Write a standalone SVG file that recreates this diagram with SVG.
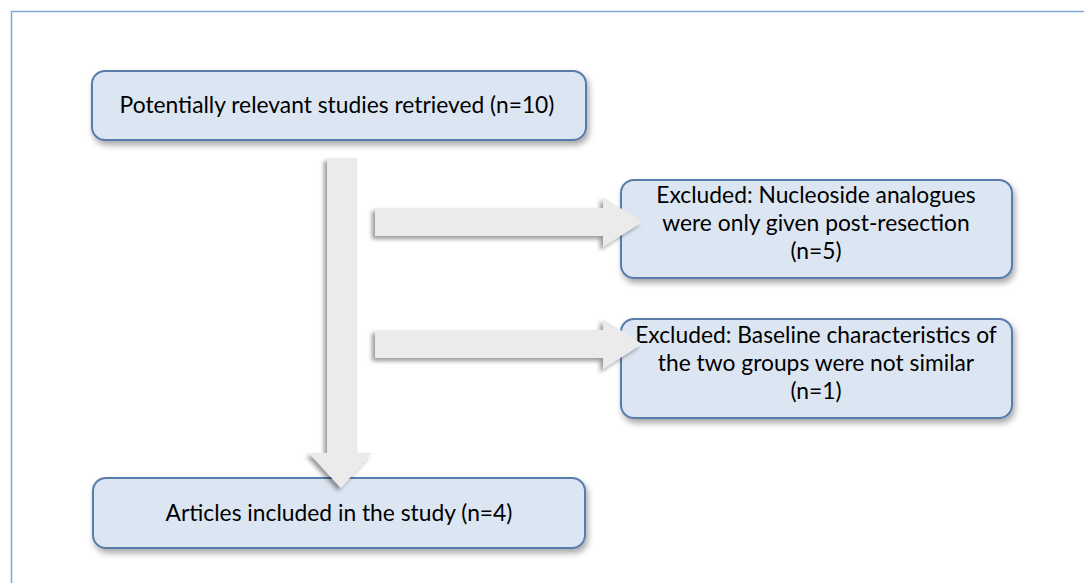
<svg xmlns="http://www.w3.org/2000/svg" width="1084" height="583" viewBox="0 0 1084 583">
<defs>
<filter id="sh" x="-10%" y="-20%" width="130%" height="150%">
<feDropShadow dx="2" dy="4" stdDeviation="3" flood-color="#000" flood-opacity="0.35"/>
</filter>
<filter id="ash" x="-20%" y="-20%" width="140%" height="150%">
<feDropShadow dx="-3" dy="3" stdDeviation="2" flood-color="#000" flood-opacity="0.4"/>
</filter>
</defs>
<style>
.box{fill:#dce6f2;stroke:#5a7bab;stroke-width:2;filter:url(#sh)}
.arr{fill:#ebebeb;filter:url(#ash)}
text{font-family:Lato,"Liberation Sans",sans-serif;font-size:22.8px;fill:#000;text-anchor:middle}
</style>
<rect x="11.5" y="11.5" width="1090" height="600" fill="none" stroke="#7ea6d8" stroke-width="1.5"/>
<g id="n1">
<rect class="box" x="92" y="71" width="494" height="69" rx="13"/>
<text x="337" y="113">Potentially relevant studies retrieved (n=10)</text>
</g>
<g id="n2">
<rect class="box" x="621" y="180" width="391" height="98" rx="13"/>
<text x="816" y="203">Excluded: Nucleoside analogues</text>
<text x="816" y="231">were only given post-resection</text>
<text x="816" y="259">(n=5)</text>
</g>
<g id="n3">
<rect class="box" x="621" y="319" width="391" height="99" rx="13"/>
<text x="816" y="343">Excluded: Baseline characteristics of</text>
<text x="816" y="371">the two groups were not similar</text>
<text x="816" y="399">(n=1)</text>
</g>
<g id="n4">
<rect class="box" x="93" y="478" width="492" height="70" rx="13"/>
<text x="339" y="521">Articles included in the study (n=4)</text>
</g>
<g id="connectors">
<polygon class="arr" points="327,158 357,158 357,453 372,453 341,488 309,453 327,453"/>
<polygon class="arr" points="375,208 603,208 603,197 642,222 603,247 603,236 375,236"/>
<polygon class="arr" points="375,330 603,330 603,319 642,344 603,369 603,358 375,358"/>
</g>
</svg>
